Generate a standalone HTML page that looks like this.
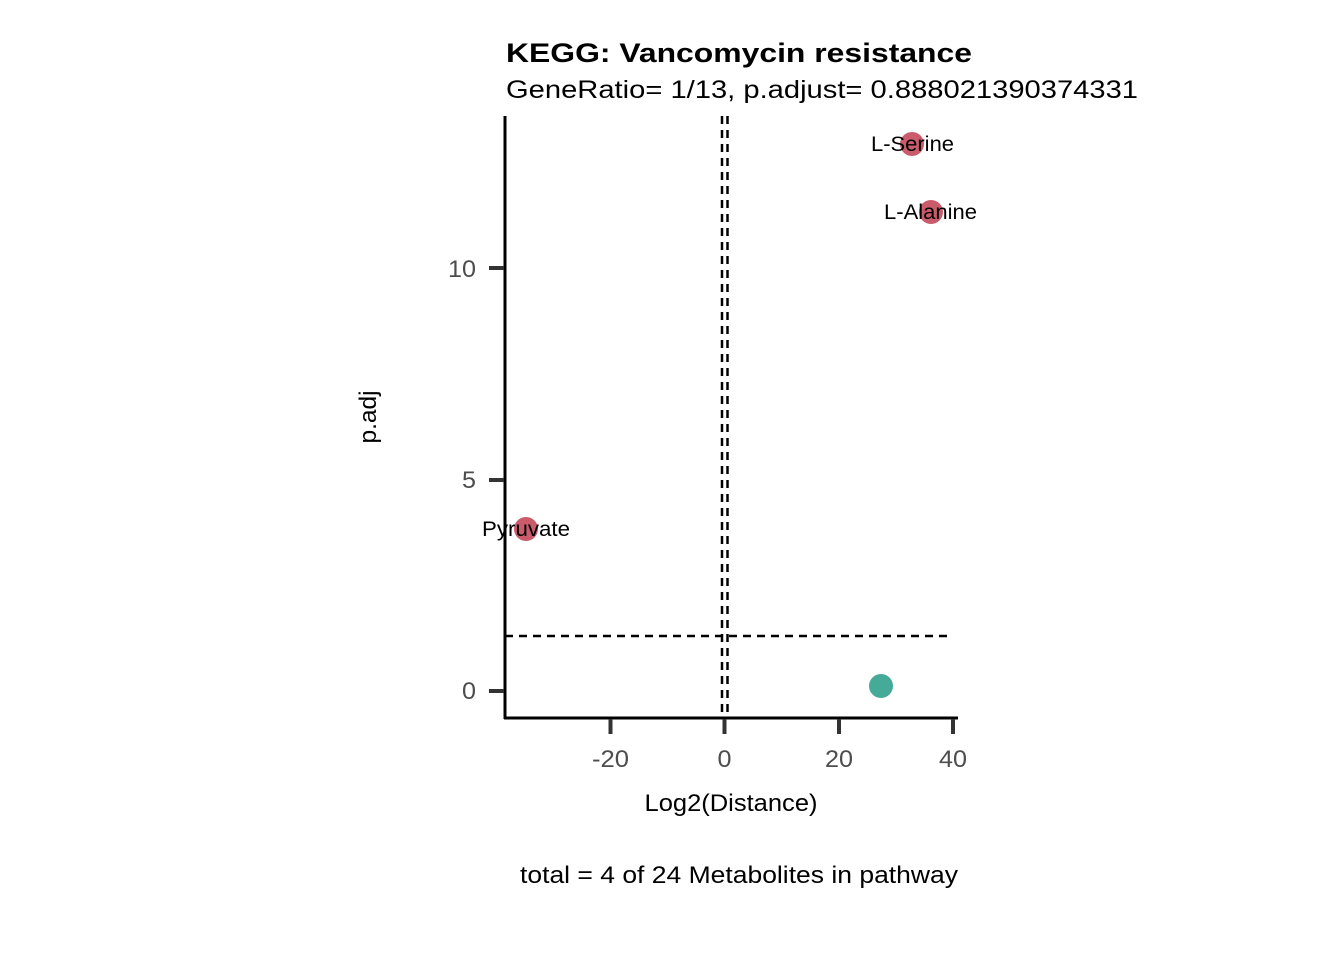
<!DOCTYPE html>
<html><head><style>body{margin:0;background:#fff}</style></head><body>
<svg width="1344" height="960" xmlns="http://www.w3.org/2000/svg" font-family="Liberation Sans, sans-serif">
<rect width="1344" height="960" fill="#fff"/>
<text x="506" y="62" font-size="27" font-weight="bold" textLength="466" lengthAdjust="spacingAndGlyphs">KEGG: Vancomycin resistance</text>
<text x="506" y="98" font-size="25" textLength="632" lengthAdjust="spacingAndGlyphs">GeneRatio= 1/13, p.adjust= 0.888021390374331</text>
<g stroke="#000" stroke-width="2.5" stroke-dasharray="8,6" fill="none">
<line x1="722" y1="116" x2="722" y2="718"/>
<line x1="727.5" y1="116" x2="727.5" y2="718"/>
<line x1="505" y1="636" x2="950" y2="636"/>
</g>
<line x1="505" y1="116" x2="505" y2="719" stroke="#000" stroke-width="3"/>
<line x1="504" y1="718" x2="958" y2="718" stroke="#000" stroke-width="3"/>
<g stroke="#333" stroke-width="4">
<line x1="489" y1="691" x2="504" y2="691"/><line x1="489" y1="480" x2="504" y2="480"/><line x1="489" y1="268" x2="504" y2="268"/>
<line x1="610.5" y1="719" x2="610.5" y2="734"/><line x1="724.5" y1="719" x2="724.5" y2="734"/><line x1="839" y1="719" x2="839" y2="734"/><line x1="953" y1="719" x2="953" y2="734"/>
</g>
<g font-size="24" fill="#4d4d4d" text-anchor="end">
<text x="476" y="699" textLength="14" lengthAdjust="spacingAndGlyphs">0</text><text x="476" y="488" textLength="14" lengthAdjust="spacingAndGlyphs">5</text><text x="476" y="277" textLength="28" lengthAdjust="spacingAndGlyphs">10</text>
</g>
<g font-size="24" fill="#4d4d4d" text-anchor="middle">
<text x="610.5" y="767" textLength="37" lengthAdjust="spacingAndGlyphs">-20</text><text x="724.5" y="767" textLength="14" lengthAdjust="spacingAndGlyphs">0</text><text x="839" y="767" textLength="28" lengthAdjust="spacingAndGlyphs">20</text><text x="953" y="767" textLength="28" lengthAdjust="spacingAndGlyphs">40</text>
</g>
<text x="731" y="811" font-size="24" text-anchor="middle" textLength="173" lengthAdjust="spacingAndGlyphs">Log2(Distance)</text>
<text transform="translate(376,417) rotate(-90)" font-size="24" text-anchor="middle" textLength="53" lengthAdjust="spacingAndGlyphs">p.adj</text>
<text x="739" y="883" font-size="24" text-anchor="middle" textLength="438" lengthAdjust="spacingAndGlyphs">total = 4 of 24 Metabolites in pathway</text>
<circle cx="881" cy="686" r="12" fill="#45aa98"/>
<circle cx="912" cy="144" r="12" fill="#c95b6b"/>
<circle cx="931" cy="212" r="12" fill="#c95b6b"/>
<circle cx="526" cy="529" r="12" fill="#c95b6b"/>
<g font-size="21" text-anchor="middle">
<text x="912.5" y="151" textLength="83" lengthAdjust="spacingAndGlyphs">L-Serine</text><text x="930.5" y="219" textLength="93" lengthAdjust="spacingAndGlyphs">L-Alanine</text><text x="526" y="536" textLength="88" lengthAdjust="spacingAndGlyphs">Pyruvate</text>
</g>
</svg>
</body></html>
